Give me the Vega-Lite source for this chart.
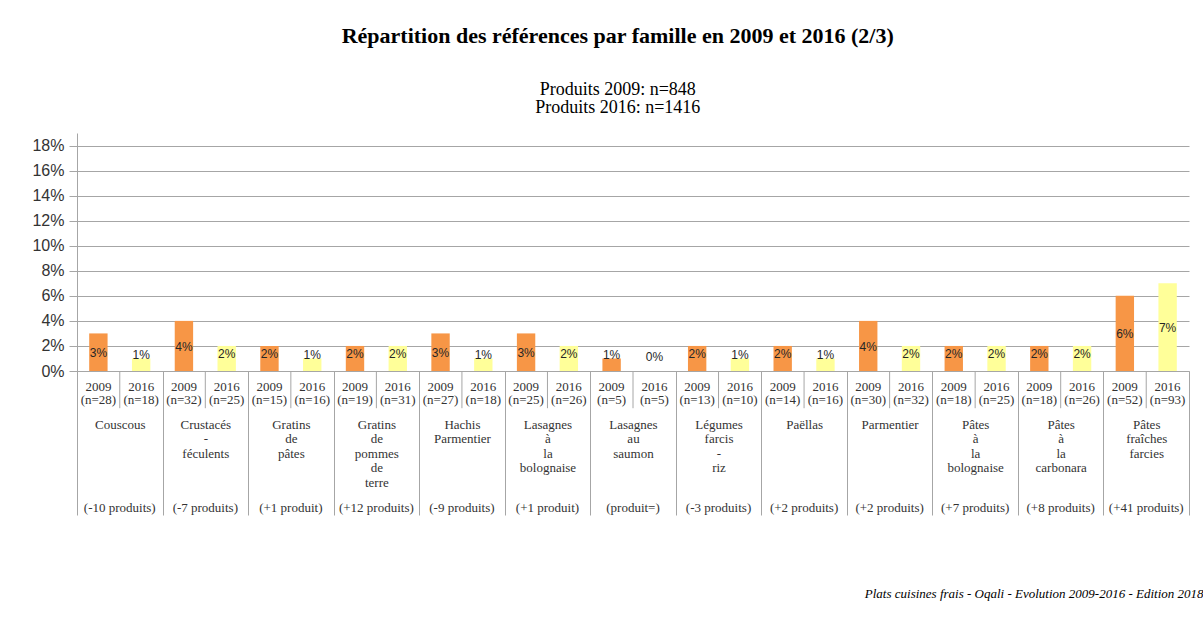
{
  "$schema": "https://vega.github.io/schema/vega-lite/v6.json",
  "padding": {"left": 31, "top": 25, "right": 0, "bottom": 0},
  "background": "white",
  "config": {"view": {"stroke": null}, "axisY": {"tickCount": 10}},
  "title": {
    "text": "Répartition des références par famille en 2009 et 2016 (2/3)",
    "subtitle": ["Produits 2009: n=848", "Produits 2016: n=1416"],
    "font": "Liberation Serif", "fontSize": 22, "fontWeight": "bold", "color": "#000000",
    "subtitleFont": "Liberation Serif", "subtitleFontSize": 18, "subtitleColor": "#000000",
    "subtitleLineHeight": 18, "subtitlePadding": 33, "anchor": "middle", "offset": 15
  },
  "data": {"values": [
    {"family": "Couscous", "year": "2009", "n": "(n=28)", "pct": 0.03, "change": "(-10 produits)"},
    {"family": "Couscous", "year": "2016", "n": "(n=18)", "pct": 0.01, "change": "(-10 produits)"},
    {"family": "Crustacés - féculents", "year": "2009", "n": "(n=32)", "pct": 0.04, "change": "(-7 produits)"},
    {"family": "Crustacés - féculents", "year": "2016", "n": "(n=25)", "pct": 0.02, "change": "(-7 produits)"},
    {"family": "Gratins de pâtes", "year": "2009", "n": "(n=15)", "pct": 0.02, "change": "(+1 produit)"},
    {"family": "Gratins de pâtes", "year": "2016", "n": "(n=16)", "pct": 0.01, "change": "(+1 produit)"},
    {"family": "Gratins de pommes de terre", "year": "2009", "n": "(n=19)", "pct": 0.02, "change": "(+12 produits)"},
    {"family": "Gratins de pommes de terre", "year": "2016", "n": "(n=31)", "pct": 0.02, "change": "(+12 produits)"},
    {"family": "Hachis Parmentier", "year": "2009", "n": "(n=27)", "pct": 0.03, "change": "(-9 produits)"},
    {"family": "Hachis Parmentier", "year": "2016", "n": "(n=18)", "pct": 0.01, "change": "(-9 produits)"},
    {"family": "Lasagnes à la bolognaise", "year": "2009", "n": "(n=25)", "pct": 0.03, "change": "(+1 produit)"},
    {"family": "Lasagnes à la bolognaise", "year": "2016", "n": "(n=26)", "pct": 0.02, "change": "(+1 produit)"},
    {"family": "Lasagnes au saumon", "year": "2009", "n": "(n=5)", "pct": 0.01, "change": "(produit=)"},
    {"family": "Lasagnes au saumon", "year": "2016", "n": "(n=5)", "pct": 0.0, "change": "(produit=)"},
    {"family": "Légumes farcis - riz", "year": "2009", "n": "(n=13)", "pct": 0.02, "change": "(-3 produits)"},
    {"family": "Légumes farcis - riz", "year": "2016", "n": "(n=10)", "pct": 0.01, "change": "(-3 produits)"},
    {"family": "Paëllas", "year": "2009", "n": "(n=14)", "pct": 0.02, "change": "(+2 produits)"},
    {"family": "Paëllas", "year": "2016", "n": "(n=16)", "pct": 0.01, "change": "(+2 produits)"},
    {"family": "Parmentier", "year": "2009", "n": "(n=30)", "pct": 0.04, "change": "(+2 produits)"},
    {"family": "Parmentier", "year": "2016", "n": "(n=32)", "pct": 0.02, "change": "(+2 produits)"},
    {"family": "Pâtes à la bolognaise", "year": "2009", "n": "(n=18)", "pct": 0.02, "change": "(+7 produits)"},
    {"family": "Pâtes à la bolognaise", "year": "2016", "n": "(n=25)", "pct": 0.02, "change": "(+7 produits)"},
    {"family": "Pâtes à la carbonara", "year": "2009", "n": "(n=18)", "pct": 0.02, "change": "(+8 produits)"},
    {"family": "Pâtes à la carbonara", "year": "2016", "n": "(n=26)", "pct": 0.02, "change": "(+8 produits)"},
    {"family": "Pâtes fraîches farcies", "year": "2009", "n": "(n=52)", "pct": 0.06, "change": "(+41 produits)"},
    {"family": "Pâtes fraîches farcies", "year": "2016", "n": "(n=93)", "pct": 0.07, "change": "(+41 produits)"}
  ]},
  "vconcat": [
    {
      "width": 1112,
      "height": 238,
      "title": {
        "text": "Plats cuisines frais - Oqali - Evolution 2009-2016 - Edition 2018",
        "orient": "bottom", "anchor": "end", "offset": 72, "dx": 14,
        "font": "Liberation Serif", "fontSize": 13, "fontStyle": "italic", "fontWeight": "normal", "color": "#000000"
      },
      "layer": [
        {
          "layer": [
            {
              "mark": {"type": "bar"},
              "encoding": {
                "x": {
                  "field": "family", "type": "nominal", "sort": null, "title": null,
                  "scale": {"paddingInner": 0, "paddingOuter": 0},
                  "axis": {
                    "tickBand": "extent", "tickSize": 144, "tickColor": "#a6a6a6", "domainColor": "#a6a6a6",
                    "labelPadding": -97, "labelAngle": 0, "labelBaseline": "top",
                    "labelExpr": "split(datum.label, ' ')", "labelLineHeight": 14.5,
                    "labelFont": "Liberation Serif", "labelFontSize": 13, "labelColor": "#333333",
                    "labelOverlap": false, "labelLimit": 0
                  }
                },
                "xOffset": {"field": "year", "type": "nominal", "scale": {"paddingInner": 0.57, "paddingOuter": 0.285}},
                "y": {
                  "field": "pct", "type": "quantitative", "title": null,
                  "scale": {"domain": [0, 0.19], "nice": false},
                  "axis": {
                    "values": [0, 0.02, 0.04, 0.06, 0.08, 0.1, 0.12, 0.14, 0.16, 0.18],
                    "tickCount": 10,
                    "format": ".0%", "grid": true, "gridColor": "#a6a6a6", "domainColor": "#a6a6a6",
                    "tickColor": "#a6a6a6", "tickSize": 8, "labelPadding": 5, "labelOverlap": false,
                    "labelFont": "Liberation Sans", "labelFontSize": 16, "labelColor": "#333333"
                  }
                },
                "color": {
                  "field": "year", "type": "nominal", "legend": null,
                  "scale": {"domain": ["2009", "2016"], "range": ["#F79646", "#FFFF99"]}
                }
              }
            },
            {
              "transform": [{"filter": "datum.year == '2009'"}],
              "mark": {"type": "rule", "color": "#a6a6a6", "strokeWidth": 1},
              "encoding": {
                "x": {"field": "family", "type": "nominal", "sort": null, "title": null},
                "y": {"datum": 0, "type": "quantitative"},
                "y2": {"datum": -0.0297}
              }
            },
            {
              "mark": {"type": "text", "font": "Liberation Serif", "fontSize": 13, "color": "#333333", "baseline": "middle", "dy": 16},
              "encoding": {
                "x": {"field": "family", "type": "nominal", "sort": null, "title": null},
                "xOffset": {"field": "year", "type": "nominal"},
                "y": {"datum": 0, "type": "quantitative"},
                "text": {"field": "year"}
              }
            },
            {
              "mark": {"type": "text", "font": "Liberation Serif", "fontSize": 13, "color": "#333333", "baseline": "middle", "dy": 29},
              "encoding": {
                "x": {"field": "family", "type": "nominal", "sort": null, "title": null},
                "xOffset": {"field": "year", "type": "nominal"},
                "y": {"datum": 0, "type": "quantitative"},
                "text": {"field": "n"}
              }
            },
            {
              "transform": [{"filter": "datum.year == '2009'"}],
              "mark": {"type": "text", "font": "Liberation Serif", "fontSize": 13, "color": "#333333", "baseline": "middle", "dy": 137},
              "encoding": {
                "x": {"field": "family", "type": "nominal", "sort": null, "title": null},
                "y": {"datum": 0, "type": "quantitative"},
                "text": {"field": "change"}
              }
            }
          ]
        },
        {
          "mark": {"type": "text", "font": "Liberation Sans", "fontSize": 12, "color": "#262626", "baseline": "middle"},
          "encoding": {
            "x": {"field": "family", "type": "nominal", "sort": null, "title": null},
            "xOffset": {"field": "year", "type": "nominal"},
            "y": {
              "field": "pct", "type": "quantitative", "axis": null,
              "scale": {"domain": [0, 0.03, 0.18], "range": [223.8, 219.75, 126], "nice": false, "zero": false}
            },
            "text": {"field": "pct", "format": ".0%"}
          }
        }
      ],
      "resolve": {"scale": {"y": "independent"}}
    }
  ]
}
